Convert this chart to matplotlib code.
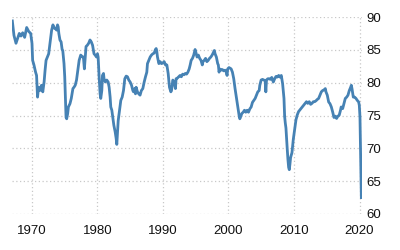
import matplotlib
matplotlib.use("Agg")
import matplotlib.pyplot as plt
from matplotlib import font_manager

years = [
    1967.0, 1967.25, 1967.56, 1967.76, 1968.06, 1968.32, 1968.58, 1968.88, 1969.19, 1969.5, 1969.8,
    1970.0, 1970.1, 1970.3, 1970.55, 1970.7, 1970.85, 1971.0, 1971.2, 1971.45, 1971.65, 1971.85,
    1972.0, 1972.15, 1972.35, 1972.55, 1972.75, 1973.0, 1973.2, 1973.4, 1973.56, 1973.75, 1973.9,
    1974.0, 1974.1, 1974.27, 1974.45, 1974.6, 1974.7, 1974.89, 1975.0, 1975.1, 1975.2, 1975.3,
    1975.45, 1975.56, 1975.8, 1976.0, 1976.25, 1976.41, 1976.6, 1976.8, 1977.0, 1977.2, 1977.44,
    1977.64, 1977.85, 1978.0, 1978.25, 1978.45, 1978.65, 1978.86, 1979.06, 1979.25, 1979.47,
    1979.65, 1979.85, 1980.0, 1980.1, 1980.25, 1980.4, 1980.5, 1980.66, 1980.76, 1980.92, 1981.0,
    1981.2, 1981.42, 1981.63, 1981.78, 1981.93, 1982.03, 1982.19, 1982.34, 1982.5, 1982.7,
    1982.85, 1982.95, 1983.05, 1983.16, 1983.36, 1983.56, 1983.77, 1983.97, 1984.17, 1984.38,
    1984.58, 1984.78, 1984.99, 1985.2, 1985.4, 1985.5, 1985.7, 1985.8, 1985.9, 1986.1, 1986.3,
    1986.5, 1986.7, 1986.92, 1987.13, 1987.33, 1987.53, 1987.63, 1987.84, 1988.04, 1988.24,
    1988.45, 1988.65, 1988.85, 1988.96, 1989.06, 1989.16, 1989.37, 1989.57, 1989.77, 1989.97,
    1990.18, 1990.38, 1990.59, 1990.79, 1990.99, 1991.2, 1991.3, 1991.5, 1991.7, 1991.8, 1991.9,
    1992.0, 1992.2, 1992.4, 1992.6, 1992.8, 1993.0, 1993.2, 1993.4, 1993.6, 1993.8, 1994.0,
    1994.15, 1994.3, 1994.5, 1994.69, 1994.9, 1995.0, 1995.2, 1995.4, 1995.6, 1995.8, 1996.0,
    1996.1, 1996.3, 1996.5, 1996.7, 1996.9, 1997.1, 1997.3, 1997.5, 1997.74, 1997.84, 1997.95,
    1998.15, 1998.35, 1998.45, 1998.56, 1998.66, 1998.86, 1999.06, 1999.27, 1999.47, 1999.67,
    1999.78, 1999.88, 2000.08, 2000.4, 2000.6, 2000.8, 2001.0, 2001.2, 2001.42, 2001.62, 2001.73,
    2001.93, 2002.03, 2002.24, 2002.44, 2002.64, 2002.85, 2003.05, 2003.25, 2003.46, 2003.66,
    2003.86, 2004.07, 2004.27, 2004.47, 2004.68, 2004.78, 2004.98, 2005.19, 2005.39, 2005.6,
    2005.7, 2005.8, 2006.0, 2006.2, 2006.4, 2006.6, 2006.84, 2007.05, 2007.25, 2007.45, 2007.66,
    2007.86, 2008.06, 2008.26, 2008.36, 2008.47, 2008.57, 2008.67, 2008.77, 2008.87, 2008.97,
    2009.07, 2009.18, 2009.28, 2009.38, 2009.48, 2009.69, 2009.89, 2010.1, 2010.3, 2010.5, 2010.7,
    2010.9, 2011.1, 2011.3, 2011.5, 2011.7, 2011.9, 2012.1, 2012.33, 2012.54, 2012.74, 2012.95,
    2013.15, 2013.36, 2013.56, 2013.76, 2013.97, 2014.17, 2014.37, 2014.58, 2014.78, 2014.88,
    2015.08, 2015.29, 2015.49, 2015.7, 2015.9, 2016.1, 2016.3, 2016.5, 2016.7, 2016.9, 2017.1,
    2017.2, 2017.43, 2017.63, 2017.83, 2018.04, 2018.24, 2018.44, 2018.65, 2018.75, 2018.85,
    2019.05, 2019.26, 2019.46, 2019.66, 2019.87, 2019.97, 2020.07, 2020.17, 2020.28,
]
values = [
    89.4, 87.2, 86.0, 86.6, 87.5, 87.1, 87.6, 86.9, 88.4, 87.8, 87.5,
    86.0, 83.4, 82.7, 81.6, 81.1, 77.8, 79.3, 78.8, 79.6, 78.6, 80.1,
    81.9, 83.4, 83.9, 84.4, 86.0, 88.0, 88.8, 88.3, 88.3, 88.0, 88.8,
    88.5, 87.5, 86.5, 86.2, 85.05, 84.9, 82.9, 80.9, 77.8, 74.7, 74.5,
    75.3, 76.3, 76.8, 77.6, 79.1, 79.3, 79.6, 80.4, 81.9, 83.4, 84.2,
    84.0, 83.9, 82.1, 85.5, 85.7, 86.0, 86.5, 86.2, 85.7, 84.4,
    84.2, 83.9, 84.4, 83.9, 80.9, 78.3, 77.6, 78.8, 81.1, 81.4, 80.6,
    80.1, 80.4, 80.1, 79.3, 77.8, 76.3, 75.8, 74.7, 73.5, 72.5,
    71.5, 70.6, 72.3, 74.2, 75.8, 77.3, 77.8, 78.8, 80.6, 81.0,
    80.9, 80.4, 80.1, 79.6, 78.8, 78.6, 79.1, 78.3, 79.3, 78.6, 78.3,
    78.1, 78.8, 79.1, 80.1, 80.9, 81.6, 82.9, 83.4, 83.9, 84.2,
    84.4, 84.5, 85.05, 85.2, 84.7, 83.9, 82.9, 83.2, 82.9, 83.0,
    83.2, 82.7, 82.7, 81.4, 79.3, 78.6, 78.8, 80.4, 80.1, 79.6, 79.1,
    80.6, 80.7, 80.9, 81.1, 80.9, 81.3, 81.2, 81.4, 81.3, 81.6, 82.1,
    82.7, 83.4, 83.7, 84.2, 85.05, 84.7, 83.9, 84.2, 83.7, 83.4, 82.7,
    83.2, 83.4, 83.7, 83.2, 83.4, 83.7, 83.9, 84.2, 84.7, 84.9, 84.4,
    83.9, 82.9, 82.7, 81.6, 82.1, 81.9, 82.0, 81.8, 81.9, 81.6,
    81.1, 82.1, 82.3, 82.1, 81.6, 80.6, 79.1, 77.8, 76.3, 75.0, 74.5,
    75.0, 75.3, 75.5, 75.8, 75.5, 75.8, 75.5, 76.0, 76.3, 77.0,
    77.3, 77.6, 78.1, 78.6, 78.8, 79.6, 80.4, 80.5, 80.4, 80.3,
    78.6, 80.4, 80.6, 80.6, 80.5, 80.8, 80.1, 80.6, 80.95, 80.85, 81.1,
    80.85, 81.1, 79.85, 78.85, 77.6, 74.85, 73.85, 73.1, 71.35, 69.85,
    68.35, 67.1, 66.75, 67.6, 68.6, 69.35, 71.35, 72.85, 74.35, 75.1, 75.6,
    75.85, 76.1, 76.35, 76.6, 76.85, 77.1, 76.85, 77.1, 76.7, 76.85, 77.1,
    77.1, 77.25, 77.45, 77.6, 78.1, 78.6, 78.8, 78.9, 79.1, 78.6,
    78.1, 77.06, 76.8, 76.3, 75.55, 74.7, 74.9, 74.55, 74.9, 75.05, 75.8,
    76.3, 76.05, 76.8, 77.6, 77.8, 78.1, 78.8, 79.3, 79.6, 79.1,
    77.8, 77.8, 77.6, 77.3, 77.06, 76.55, 74.8, 68.8, 62.5,
]

x_ticks = [1970, 1980, 1990, 2000, 2010, 2020]
y_ticks = [60, 65, 70, 75, 80, 85, 90]

names = {f.name for f in font_manager.fontManager.ttflist}
fam = "Liberation Sans Narrow" if "Liberation Sans Narrow" in names else "Liberation Sans"

fig = plt.figure(figsize=(4, 2.5), dpi=100)
ax = fig.add_axes([0.03, 0.144, 0.875, 0.788])
ax.plot(years, values, color="#4682b4", linewidth=2.0, solid_joinstyle="round")
ax.set_xlim(1966.95, 2020.38)
ax.set_ylim(60, 90)
ax.set_xticks(x_ticks)
ax.set_yticks(y_ticks)
ax.yaxis.tick_right()
ax.tick_params(axis="both", length=0, labelsize=9.5, colors="#111111")
ax.tick_params(axis="x", pad=8)
ax.tick_params(axis="y", pad=3)
for lab in ax.get_xticklabels() + ax.get_yticklabels():
    lab.set_fontfamily(fam)
ax.grid(True, color="#c8c8c8", linestyle=(0, (1, 2)), linewidth=0.9)
for s in ax.spines.values():
    s.set_visible(False)
ax.set_axisbelow(True)
fig.savefig("out.png", dpi=100)
